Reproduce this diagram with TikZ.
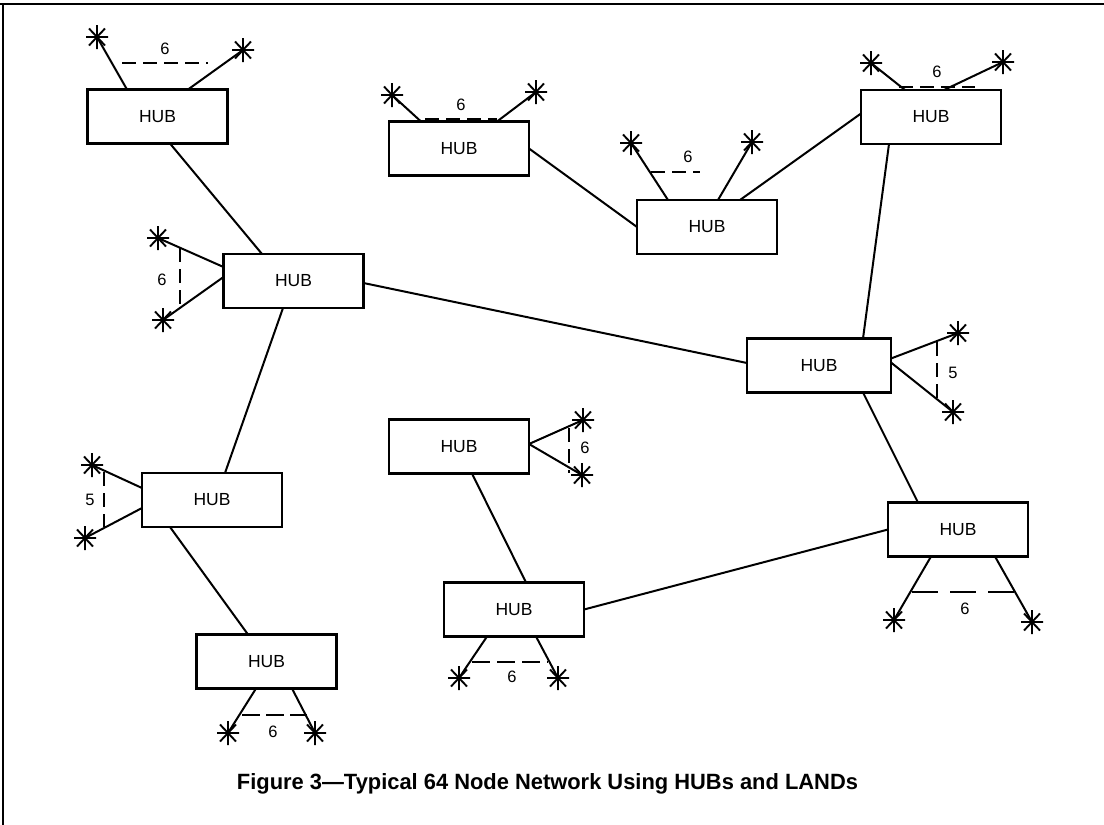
\documentclass[tikz,border=0pt]{standalone}
\usepackage{fontspec}
\setmainfont{Liberation Sans}
\usetikzlibrary{calc}
\begin{document}
\begin{tikzpicture}[x=1pt,y=-1pt,
 hub/.style={draw,line width=2.3pt,minimum width=140pt,minimum height=54pt,inner sep=0pt,outer sep=0pt,font=\fontsize{17.5}{17.5}\selectfont},
 link/.style={line width=2pt},
 meas/.style={line width=2pt,dash pattern=on 14pt off 7pt},
 num/.style={font=\fontsize{16.5}{16.5}\selectfont,inner sep=0pt},
 lstar/.pic={\draw[line width=1.9pt] (-11,0)--(11,0) (0,-12)--(0,12) (-8,-8.5)--(8,8.5) (-8,8.5)--(8,-8.5);}
]
\useasboundingbox (0,0) rectangle (1104,825);
% frame
\draw[line width=2pt] (0,4) -- (1104,4);
\draw[line width=2.2pt] (3,4) -- (3,825);

% hubs
\node[hub] (h1) at (157.5,116.5) {HUB};
\node[hub] (h2) at (293.5,281) {HUB};
\node[hub] (h3) at (212,500) {HUB};
\node[hub] (h4) at (266.5,661.5) {HUB};
\node[hub] (h5) at (514,609.5) {HUB};
\node[hub] (h6) at (459,446.5) {HUB};
\node[hub,minimum width=144pt] (h7) at (819,365.5) {HUB};
\node[hub] (h8) at (958,529.5) {HUB};
\node[hub] (h9) at (459,148.5) {HUB};
\node[hub] (h10) at (707,227) {HUB};
\node[hub] (h11) at (931,117) {HUB};

% hub links
\draw[link] ([xshift=12.5pt]h1.south) -- ([xshift=-31.5pt]h2.north);
\draw[link] ([yshift=-2pt]h2.east) -- ([yshift=2.5pt]h7.west);
\draw[link] ([xshift=-10.5pt]h2.south) -- ([xshift=13pt]h3.north);
\draw[link] ([xshift=-42pt]h3.south) -- ([xshift=-18.5pt]h4.north);
\draw[link] (h9.east) -- (h10.west);
\draw[link] ([xshift=33pt]h10.north) -- ([yshift=3.5pt]h11.west);
\draw[link] ([xshift=-42pt]h11.south) -- ([xshift=44pt]h7.north);
\draw[link] ([xshift=44pt]h7.south) -- ([xshift=-40pt]h8.north);
\draw[link] (h8.west) -- (h5.east);
\draw[link] ([xshift=13pt]h6.south) -- ([xshift=12pt]h5.north);

% h1
\path (97,37) coordinate (s1a) pic {lstar};
\path (243,50) coordinate (s1b) pic {lstar};
\draw[link] (s1a) -- ([xshift=-30.5pt]h1.north);
\draw[link] (s1b) -- ([xshift=30.5pt]h1.north);
\draw[meas] (122,63) -- (208,63);
\node[num] (n1) at (165,49) {6};

% h2
\path (158,238) coordinate (s2a) pic {lstar};
\path (163,320) coordinate (s2b) pic {lstar};
\draw[link] (s2a) -- ([yshift=14pt]h2.west);
\draw[link] (s2b) -- ([yshift=4pt]h2.west);
\draw[meas] (180,248) -- (180,308);
\node[num] (n2) at (162,280) {6};

% h3
\path (92,465) coordinate (s3a) pic {lstar};
\path (85,538) coordinate (s3b) pic {lstar};
\draw[link] (s3a) -- ([yshift=12pt]h3.west);
\draw[link] (s3b) -- ([yshift=-8pt]h3.west);
\draw[meas] (104,472) -- (104,527);
\node[num] (n3) at (90,500) {5};

% h4
\path (228,733) coordinate (s4a) pic {lstar};
\path (315,733) coordinate (s4b) pic {lstar};
\draw[link] (s4a) -- ([xshift=-10.5pt]h4.south);
\draw[link] (s4b) -- ([xshift=25.5pt]h4.south);
\draw[meas,dash pattern=on 18pt off 6pt] (242,715) -- (307,715);
\node[num] (n4) at (273,732) {6};

% h5
\path (459,678) coordinate (s5a) pic {lstar};
\path (558,678) coordinate (s5b) pic {lstar};
\draw[link] (s5a) -- ([xshift=-27pt]h5.south);
\draw[link] (s5b) -- ([xshift=22pt]h5.south);
\draw[meas,dash pattern=on 18pt off 7pt] (472,662) -- (548,662);
\node[num] (n5) at (512,677) {6};

% h6
\path (583,420) coordinate (s6a) pic {lstar};
\path (582,475) coordinate (s6b) pic {lstar};
\draw[link] (s6a) -- ([yshift=2.5pt]h6.east);
\draw[link] (s6b) -- ([yshift=2.5pt]h6.east);
\draw[meas] (569,428) -- (569,473);
\node[num] (n6) at (585,448) {6};

% h7
\path (958,333) coordinate (s7a) pic {lstar};
\path (953,412) coordinate (s7b) pic {lstar};
\draw[link] (s7a) -- ([yshift=7pt]h7.east);
\draw[link] (s7b) -- ([yshift=3pt]h7.east);
\draw[meas] (937,342) -- (937,398);
\node[num] (n7) at (953,373) {5};

% h8
\path (894,620) coordinate (s8a) pic {lstar};
\path (1032,622) coordinate (s8b) pic {lstar};
\draw[link] (s8a) -- ([xshift=-27pt]h8.south);
\draw[link] (s8b) -- ([xshift=37pt]h8.south);
\draw[meas,dash pattern=on 26pt off 12pt] (912,592) -- (1015,592);
\node[num] (n8) at (965,609) {6};

% h9
\path (392,95) coordinate (s9a) pic {lstar};
\path (536,92) coordinate (s9b) pic {lstar};
\draw[link] (s9a) -- ([xshift=-38pt]h9.north);
\draw[link] (s9b) -- ([xshift=38pt]h9.north);
\draw[meas] (425,119) -- (497,119);
\node[num] (n9) at (461,105) {6};

% h10
\path (631,143) coordinate (s10a) pic {lstar};
\path (752,142) coordinate (s10b) pic {lstar};
\draw[link] (s10a) -- ([xshift=-39pt]h10.north);
\draw[link] (s10b) -- ([xshift=11pt]h10.north);
\draw[meas] (651,172) -- (700,172);
\node[num] (n10) at (688,157) {6};

% h11
\path (871,63) coordinate (s11a) pic {lstar};
\path (1003,62) coordinate (s11b) pic {lstar};
\draw[link] (s11a) -- ([xshift=-26pt]h11.north);
\draw[link] (s11b) -- ([xshift=13pt]h11.north);
\draw[meas] (899,87) -- (975,87);
\node[num] (n11) at (937,72) {6};

% caption
\node[inner sep=0pt] (cap) at (547.5,784) {\resizebox{621pt}{16pt}{\bfseries Figure 3\char"2014 Typical 64 Node Network Using HUBs and LANDs}};
\end{tikzpicture}
\end{document}
